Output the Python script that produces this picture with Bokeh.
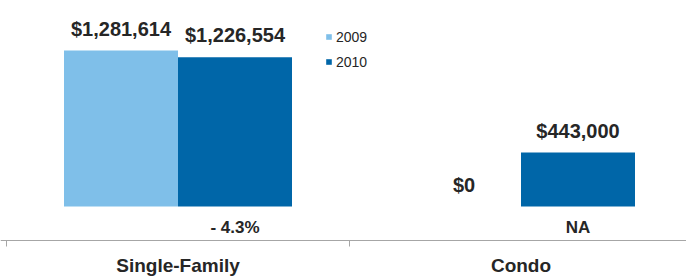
from bokeh.plotting import figure
from bokeh.models import (Range1d, LinearAxis, FixedTicker, ColumnDataSource,
                          Legend, LegendItem)
from bokeh.core.properties import value
from bokeh.embed import file_html
from bokeh.resources import INLINE

# ---- data ----
categories = ["Single-Family", "Condo"]
series_names = ["2009", "2010"]
values_2009 = [1281614, 0]
values_2010 = [1226554, 443000]
change_labels = ["- 4.3%", "NA"]

colors = ["#7FBFE9", "#0066A8"]
TEXT = "#262626"
FONT = "Liberation Sans"

W, H = 686, 276
cat_px = 343.0           # pixel width of one category slot
x0_px = 6.0              # pixel position of first category boundary
bar_frac = 114.0 / cat_px

p = figure(width=W, height=H, output_backend="svg", toolbar_location=None,
           x_axis_location=None, y_axis_location=None,
           x_range=Range1d(-x0_px / cat_px, (W - x0_px) / cat_px),
           y_range=Range1d(-575000, 1692400),
           min_border=0, min_border_left=0, min_border_right=0,
           min_border_top=0, min_border_bottom=0)
p.outline_line_color = None
p.grid.visible = False
p.background_fill_color = "white"
p.border_fill_color = "white"

idx = list(range(len(categories)))
x09 = [i + 0.5 - bar_frac / 2 for i in idx]
x10 = [i + 0.5 + bar_frac / 2 for i in idx]

src09 = ColumnDataSource(dict(x=x09, top=values_2009,
                              lab=["${:,}".format(v) for v in values_2009]))
src10 = ColumnDataSource(dict(x=x10, top=values_2010,
                              lab=["${:,}".format(v) for v in values_2010],
                              chg=change_labels, zero=[0] * len(idx)))

r09 = p.vbar(x="x", top="top", bottom=0, width=bar_frac, source=src09,
             fill_color=colors[0], line_color=None)
r10 = p.vbar(x="x", top="top", bottom=0, width=bar_frac, source=src10,
             fill_color=colors[1], line_color=None)

for src in (src09, src10):
    p.text(x="x", y="top", text="lab", source=src, text_align="center",
           text_baseline="alphabetic", y_offset=-22,
           text_font=value(FONT), text_font_style="bold",
           text_font_size="20px", text_color=TEXT)

p.text(x="x", y="zero", text="chg", source=src10, text_align="center",
       text_baseline="alphabetic", y_offset=21,
       text_font=value(FONT), text_font_style="bold",
       text_font_size="17px", text_color=TEXT)

# category axis
ax = LinearAxis(fixed_location=-279300,
                ticker=FixedTicker(ticks=[i + 0.5 for i in idx],
                                   minor_ticks=[float(i) for i in range(len(categories) + 1)]),
                major_label_overrides={i + 0.5: c for i, c in zip(idx, categories)})
ax.axis_line_color = "#A6A6A6"
ax.major_tick_line_color = None
ax.major_tick_out = 0
ax.major_tick_in = 0
ax.minor_tick_line_color = "#A6A6A6"
ax.minor_tick_out = 6
ax.minor_tick_in = 0
ax.major_label_standoff = 8
ax.major_label_text_font = FONT
ax.major_label_text_font_style = "bold"
ax.major_label_text_font_size = "19px"
ax.major_label_text_color = TEXT
p.add_layout(ax, "below")

legend = Legend(items=[LegendItem(label=series_names[0], renderers=[r09]),
                       LegendItem(label=series_names[1], renderers=[r10])],
                location=(325, 206), orientation="vertical",
                glyph_width=7, glyph_height=7, label_height=17, spacing=8,
                label_standoff=4, padding=0, margin=0,
                border_line_color=None, background_fill_alpha=0,
                label_text_font=FONT, label_text_font_size="14px",
                label_text_color=TEXT)
p.add_layout(legend, "center")

open("out.html", "w").write(file_html(p, INLINE))
